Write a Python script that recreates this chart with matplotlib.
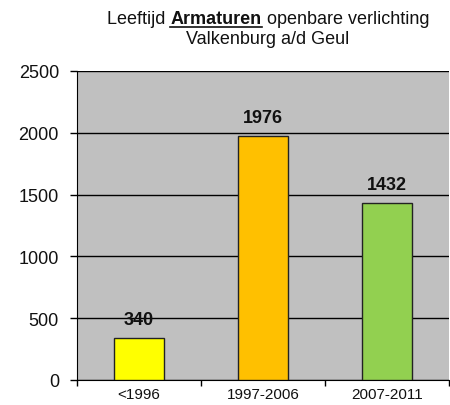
import matplotlib
matplotlib.use("Agg")
import matplotlib.pyplot as plt
from matplotlib.lines import Line2D

# data
categories = ["<1996", "1997-2006", "2007-2011"]
counts = [340, 1976, 1432]
bar_colors = ["#FFFF00", "#FFC000", "#92D050"]
y_ticks = [0, 500, 1000, 1500, 2000, 2500]

plt.rcParams['font.family'] = ['Liberation Sans', 'DejaVu Sans']

fig = plt.figure(figsize=(4.5, 4.06), dpi=100)
ax = fig.add_axes([77 / 450, 25 / 406, 372 / 450, 309 / 406])
ax.set_facecolor("#C0C0C0")

x = list(range(len(categories)))
ax.bar(x, counts, width=0.4, color=bar_colors, edgecolor="#222222", linewidth=1.0, zorder=3)

for xi, v in zip(x, counts):
    ax.annotate(str(v), (xi, v), xytext=(0, 7), textcoords="offset points",
                ha="center", va="bottom", fontsize=13, fontweight="bold",
                color="#111111", zorder=4)

ax.set_xlim(-0.5, len(categories) - 0.5)
ax.set_ylim(0, 2500)
ax.set_yticks(y_ticks)
ax.set_yticklabels([str(t) for t in y_ticks], fontsize=13, color="#111111")
ax.yaxis.grid(True, color="black", linewidth=1.0, zorder=1)
ax.set_axisbelow(True)

# category labels centred, ticks at the category boundaries
ax.set_xticks(x)
ax.set_xticklabels(categories, fontsize=11, color="#111111")
ax.tick_params(axis="x", length=0, pad=5)
ax.set_xticks([i - 0.5 for i in range(len(categories) + 1)], minor=True)
ax.tick_params(axis="x", which="minor", length=4, width=1, color="black", direction="out")
ax.tick_params(axis="y", length=5, width=1, direction="out", pad=8)

for side in ["top", "right"]:
    ax.spines[side].set_visible(False)
ax.spines["left"].set_color("black")
ax.spines["bottom"].set_color("black")

# title with underlined bold word
fig.canvas.draw()
r = fig.canvas.get_renderer()
parts = [("Leeftijd ", "normal"), ("Armaturen", "bold"), (" openbare verlichting", "normal")]
ty = 1 - 20 / 406
fs_title = 13
texts = []
for s, w in parts:
    t = fig.text(0, ty, s, fontsize=fs_title, fontweight=w, va="center", ha="left", color="#111111")
    texts.append(t)
widths = [t.get_window_extent(r).width for t in texts]
total = sum(widths)
cx = 268
xpos = cx - total / 2
for t, wd in zip(texts, widths):
    t.set_x(xpos / 450)
    xpos += wd
# underline under bold word
bb = texts[1].get_window_extent(r)
uy = (bb.y0 + 1) / 406
fig.add_artist(Line2D([bb.x0 / 450, bb.x1 / 450], [uy, uy], color="#111111", linewidth=1.2,
                      transform=fig.transFigure))
fig.text(cx / 450, 1 - 40 / 406, "Valkenburg a/d Geul", fontsize=fs_title, ha="center",
         va="center", color="#111111")

fig.savefig("out.png", dpi=100)
